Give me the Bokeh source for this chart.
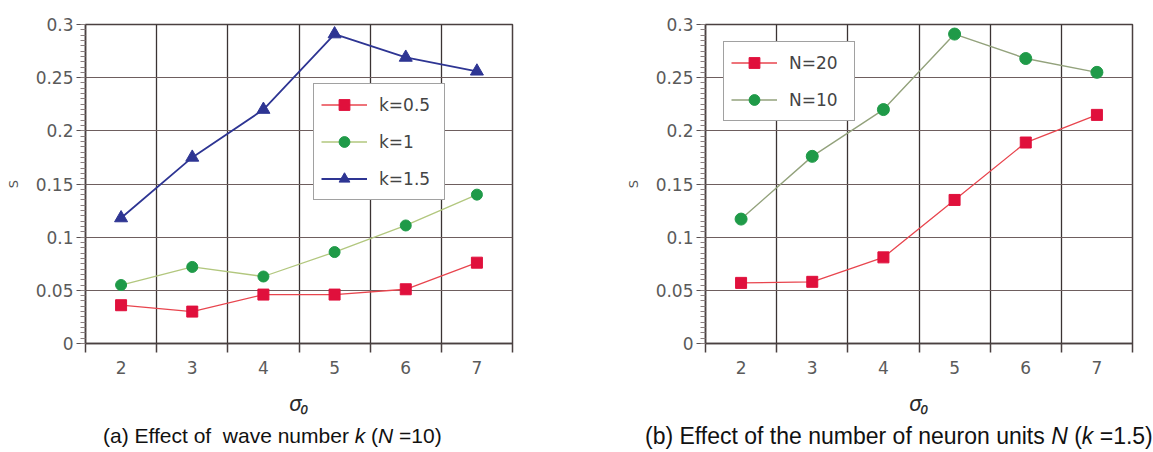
from bokeh.plotting import figure
from bokeh.models import Range1d, FixedTicker, Legend, LegendItem, Div
from bokeh.layouts import row, column
from bokeh.embed import file_html
from bokeh.resources import INLINE

sigma = [2, 3, 4, 5, 6, 7]
s_k05 = [0.036, 0.030, 0.046, 0.046, 0.051, 0.076]
s_k1 = [0.055, 0.072, 0.063, 0.086, 0.111, 0.140]
s_k15 = [0.118, 0.175, 0.220, 0.291, 0.269, 0.256]
s_n20 = [0.057, 0.058, 0.081, 0.135, 0.189, 0.215]
s_n10 = [0.117, 0.176, 0.220, 0.291, 0.268, 0.255]

y_ticks = [0, 0.05, 0.1, 0.15, 0.2, 0.25, 0.3]
y_tick_labels = ["0", "0.05", "0.1", "0.15", "0.2", "0.25", "0.3"]
x_bounds = [1.5, 2.5, 3.5, 4.5, 5.5, 6.5, 7.5]

caption_a = '(a) Effect of&nbsp; wave number <i>k</i> (<i>N</i> =10)'
caption_b = '(b) Effect of the number of neuron units <i>N</i> (<i>k</i> =1.5)'

TICK_FONT = "DejaVu Sans"
GRID_V = "#3b3333"
GRID_H = "#6e5e5e"


def make_fig(bl, br):
    p = figure(output_backend="svg", toolbar_location=None,
               frame_width=427, frame_height=319,
               min_border_left=bl, min_border_right=br,
               min_border_top=24, min_border_bottom=82,
               x_range=Range1d(1.5, 7.5), y_range=Range1d(0, 0.3))
    p.background_fill_color = "white"
    p.border_fill_color = "white"
    p.outline_line_color = "#4a4040"
    p.outline_line_width = 1.5

    # x axis
    xa = p.xaxis[0]
    xa.ticker = FixedTicker(ticks=sigma, minor_ticks=x_bounds)
    xa.major_tick_line_color = None
    xa.major_tick_in = 0
    xa.major_tick_out = 9
    xa.minor_tick_in = 0
    xa.minor_tick_out = 9
    xa.minor_tick_line_color = "#4a4040"
    xa.minor_tick_line_width = 1.5
    xa.axis_line_color = "#4a4040"
    xa.axis_line_width = 1.5
    xa.major_label_standoff = 8
    xa.major_label_text_font = TICK_FONT
    xa.major_label_text_font_size = "17px"
    xa.major_label_text_color = "#5a5a5a"
    xa.axis_label = "σ₀"
    xa.axis_label_text_font = "Noto Sans"
    xa.axis_label_text_font_style = "italic"
    xa.axis_label_text_font_size = "22px"
    xa.axis_label_text_color = "#2a2a2a"
    xa.axis_label_standoff = 10

    # y axis
    ya = p.yaxis[0]
    minor = [i * 0.005 for i in range(61)]
    ya.ticker = FixedTicker(ticks=y_ticks, minor_ticks=minor)
    ya.major_label_overrides = {t: l for t, l in zip(y_ticks, y_tick_labels)}
    ya.major_tick_in = 0
    ya.major_tick_out = 9
    ya.minor_tick_in = 0
    ya.minor_tick_out = 5
    ya.major_tick_line_color = "#5a5050"
    ya.minor_tick_line_color = "#8a8080"
    ya.axis_line_color = "#4a4040"
    ya.axis_line_width = 1.5
    ya.major_label_standoff = 3
    ya.major_label_text_font = TICK_FONT
    ya.major_label_text_font_size = "17px"
    ya.major_label_text_color = "#5a5a5a"
    ya.axis_label = "S"
    ya.axis_label_text_font = TICK_FONT
    ya.axis_label_text_font_style = "normal"
    ya.axis_label_text_font_size = "13px"
    ya.axis_label_text_color = "#555555"
    ya.axis_label_standoff = 12

    p.xgrid.ticker = FixedTicker(ticks=x_bounds)
    p.xgrid.grid_line_color = GRID_V
    p.xgrid.grid_line_width = 1.3
    p.ygrid.ticker = FixedTicker(ticks=y_ticks)
    p.ygrid.grid_line_color = GRID_H
    p.ygrid.grid_line_width = 1.1
    return p


def legend_for(p, items, loc):
    lg = Legend(items=items, location=loc, orientation="vertical",
                padding=7, spacing=10, margin=0,
                glyph_width=46, glyph_height=27, label_standoff=12,
                label_width=58, label_height=27,
                label_text_font=TICK_FONT, label_text_font_size="17px",
                label_text_color="#444444",
                border_line_color="#444444", border_line_width=1.5,
                background_fill_color="white", background_fill_alpha=1.0)
    p.add_layout(lg)


RED = "#e0103c"
RED_LINE = "#e8454e"
GREEN = "#1f9a48"
GREEN_LINE_A = "#b2c77e"
GREEN_LINE_B = "#93a27c"
BLUE = "#2e3593"

# ---- left panel
p1 = make_fig(85, 64)
l1 = p1.line(sigma, s_k05, line_color=RED_LINE, line_width=1.3)
m1 = p1.scatter(sigma, s_k05, marker="square", size=11, fill_color=RED, line_color=RED)
l2 = p1.line(sigma, s_k1, line_color=GREEN_LINE_A, line_width=1.3)
m2 = p1.scatter(sigma, s_k1, marker="circle", size=11, fill_color=GREEN, line_color=GREEN)
l3 = p1.line(sigma, s_k15, line_color=BLUE, line_width=1.8)
m3 = p1.scatter(sigma, s_k15, marker="triangle", size=13, fill_color=BLUE, line_color=BLUE)
legend_for(p1, [LegendItem(label="k=0.5", renderers=[l1, m1]),
                LegendItem(label="k=1", renderers=[l2, m2]),
                LegendItem(label="k=1.5", renderers=[l3, m3])], (228, 143))

# ---- right panel
p2 = make_fig(129, 12)
r1 = p2.line(sigma, s_n20, line_color=RED_LINE, line_width=1.3)
n1 = p2.scatter(sigma, s_n20, marker="square", size=11, fill_color=RED, line_color=RED)
r2 = p2.line(sigma, s_n10, line_color=GREEN_LINE_B, line_width=1.4)
n2 = p2.scatter(sigma, s_n10, marker="circle", size=12, fill_color=GREEN, line_color=GREEN)
legend_for(p2, [LegendItem(label="N=20", renderers=[r1, n1]),
                LegendItem(label="N=10", renderers=[r2, n2])], (18, 222))

d1 = Div(text='<div style="padding-left:103px;font-family:\'Liberation Sans\',Arial,sans-serif;'
              'font-size:21px;line-height:22px;color:#111;white-space:nowrap;">' + caption_a + '</div>',
         width=576, height=26, margin=0)
d2 = Div(text='<div style="padding-left:69px;font-family:\'Liberation Sans\',Arial,sans-serif;'
              'font-size:23px;line-height:22px;color:#111;white-space:nowrap;">' + caption_b + '</div>',
         width=568, height=26, margin=0)

layout = column(row(p1, p2, spacing=0), row(d1, d2, spacing=0), spacing=0)
open("out.html", "w").write(file_html(layout, INLINE))
